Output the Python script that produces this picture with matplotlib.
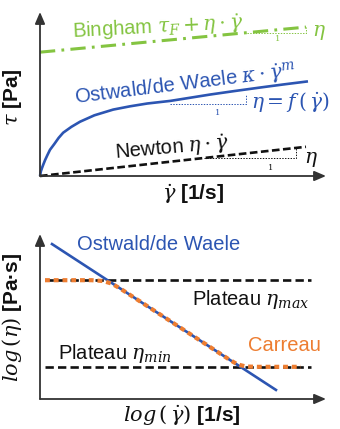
import matplotlib
matplotlib.use("Agg")
import matplotlib.pyplot as plt

plt.rcParams['font.family'] = ['Liberation Sans', 'DejaVu Sans']
plt.rcParams['mathtext.fontset'] = 'dejavuserif'
plt.rcParams['lines.scale_dashes'] = False

# ---------------- data (arbitrary schematic units, 0..1) ----------------
# top panel: shear stress vs shear rate
bingham_x = [0.0, 0.93]
bingham_y = [0.755, 0.908]
newton_x = [0.0, 0.93]
newton_y = [0.0, 0.178]
ostwald_x = [0.0, 0.003, 0.007, 0.012, 0.018, 0.026, 0.035, 0.050, 0.065, 0.081, 0.110,
             0.140, 0.190, 0.256, 0.315, 0.375, 0.456, 0.596, 0.680, 0.772, 0.850, 0.937]
ostwald_y = [0.0, 0.028, 0.049, 0.072, 0.098, 0.128, 0.160, 0.195, 0.232, 0.264, 0.300,
             0.331, 0.370, 0.405, 0.425, 0.442, 0.458, 0.497, 0.518, 0.540, 0.558, 0.577]

# slope triangles (top panel)
bing_tri_x = [0.725, 0.93, 0.93]
bing_tri_y = [0.874, 0.874, 0.908]
ost_tri_x = [0.456, 0.719, 0.719]
ost_tri_y = [0.442, 0.442, 0.503]
newt_tri_x = [0.572, 0.895, 0.895]
newt_tri_y = [0.109, 0.109, 0.171]

# bottom panel: log viscosity vs log shear rate
pl_x = [0.0175, 0.947]
pl_max_y = [0.72, 0.72]
pl_min_y = [0.195, 0.195]
ow_log_x = [0.042, 0.825]
ow_log_y = [0.939, 0.055]
carreau_x = [0.0175, 0.18, 0.22, 0.25, 0.28, 0.40, 0.50, 0.60, 0.66, 0.69, 0.72, 0.76, 0.912]
carreau_y = [0.72, 0.72, 0.715, 0.70, 0.670, 0.535, 0.422, 0.309, 0.241, 0.210, 0.197, 0.195, 0.195]

GREEN = '#84C441'
BLUE = '#2C55B2'
ORANGE = '#ED7D31'
BLACK = '#111111'
AXC = '#333333'
FS = 14.5
FSL = 15

fig = plt.figure(figsize=(3.4, 4.29), dpi=100)
W, H = 340.0, 429.0

def make_ax(x0, y0, x1, y1):
    # pixel coords: origin (x0,y0), arrow tips x1, y1 (top)
    ax = fig.add_axes([x0 / W, 1 - y0 / H, (x1 - x0) / W, (y0 - y1) / H])
    ax.set_xlim(0, 1)
    ax.set_ylim(0, 1)
    ax.axis('off')
    ap = dict(arrowstyle='-|>,head_length=0.7,head_width=0.3', color=AXC, lw=1.3,
              shrinkA=0, shrinkB=0)
    ax.annotate('', xy=(1, 0), xytext=(0, 0), arrowprops=ap, annotation_clip=False)
    ax.annotate('', xy=(0, 1), xytext=(0, 0), arrowprops=ap, annotation_clip=False)
    return ax

# ---------------- top panel ----------------
ax1 = make_ax(40, 176, 326, 12)
ax1.plot(bingham_x, bingham_y, color=GREEN, lw=2.2, dashes=(11, 4.5, 2, 4.5), clip_on=False)
ax1.plot(ostwald_x, ostwald_y, color=BLUE, lw=1.9, clip_on=False, solid_capstyle='butt',
         solid_joinstyle='round')
ax1.plot(newton_x, newton_y, color=BLACK, lw=1.9, dashes=(5.5, 2.5), clip_on=False)
for tx, ty, c in [(bing_tri_x, bing_tri_y, GREEN), (ost_tri_x, ost_tri_y, BLUE),
                  (newt_tri_x, newt_tri_y, BLACK)]:
    ax1.plot(tx, ty, color=c, lw=0.7, ls=(0, (1, 1)), clip_on=False)

ax1.text(0.414, 0.905, r'Bingham $\tau_F + \eta\cdot\dot{\gamma}$', color=GREEN, fontsize=FS,
         ha='center', va='center', rotation=3, rotation_mode='anchor')
ax1.text(0.509, 0.555, r'Ostwald/de Waele $\kappa\cdot\dot{\gamma}^{m}$', color=BLUE, fontsize=FS,
         ha='center', va='center', rotation=7, rotation_mode='anchor')
ax1.text(0.463, 0.172, r'Newton $\eta\cdot\dot{\gamma}$', color=BLACK, fontsize=FS,
         ha='center', va='center', rotation=5, rotation_mode='anchor')
ax1.text(0.737, 0.454, r'$\eta = f\,(\,\dot{\gamma})$', color=BLUE, fontsize=FS,
         ha='left', va='center')
ax1.text(0.952, 0.877, r'$\eta$', color=GREEN, fontsize=FS, ha='left', va='center')
ax1.text(0.922, 0.098, r'$\eta$', color=BLACK, fontsize=FS, ha='left', va='center')
ax1.text(0.832, 0.834, '1', color=GREEN, fontsize=6, ha='center', va='center', family='DejaVu Serif')
ax1.text(0.621, 0.385, '1', color=BLUE, fontsize=6, ha='center', va='center', family='DejaVu Serif')
ax1.text(0.807, 0.049, '1', color=BLACK, fontsize=6, ha='center', va='center', family='DejaVu Serif')

fig.text(12 / W, 1 - 97 / H, r'$\tau$ [Pa]', rotation=90, fontsize=FSL, fontweight='bold',
         ha='center', va='center', color=BLACK)
fig.text(193 / W, 1 - 194 / H, r'$\dot{\gamma}$ [1/s]', fontsize=FSL, fontweight='bold',
         ha='center', va='center', color=BLACK)

# ---------------- bottom panel ----------------
ax2 = make_ax(40, 399, 326, 234)
ax2.plot(pl_x, pl_max_y, color=BLACK, lw=1.9, dashes=(6, 3), clip_on=False)
ax2.plot(pl_x, pl_min_y, color=BLACK, lw=1.9, dashes=(6, 3), clip_on=False)
ax2.plot(ow_log_x, ow_log_y, color=BLUE, lw=1.9, clip_on=False)
ax2.plot(carreau_x, carreau_y, color=ORANGE, lw=3.0, dashes=(3.5, 2.8), clip_on=False)

ax2.text(0.414, 0.939, 'Ostwald/de Waele', color=BLUE, fontsize=FS, ha='center', va='center')
ax2.text(0.737, 0.604, r'Plateau $\eta_{max}$', color=BLACK, fontsize=FS, ha='center', va='center')
ax2.text(0.853, 0.323, 'Carreau', color=ORANGE, fontsize=FS, ha='center', va='center')
ax2.text(0.263, 0.274, r'Plateau $\eta_{min}$', color=BLACK, fontsize=FS, ha='center', va='center')

fig.text(12 / W, 1 - 317 / H, r'$log\,(\eta)$ [Pa·s]', rotation=90, fontsize=FSL, fontweight='bold',
         ha='center', va='center', color=BLACK)
fig.text(182 / W, 1 - 415 / H, r'$log\,(\,\dot{\gamma})$ [1/s]', fontsize=FSL, fontweight='bold',
         ha='center', va='center', color=BLACK)

fig.savefig('out.png', dpi=100, facecolor='white')
